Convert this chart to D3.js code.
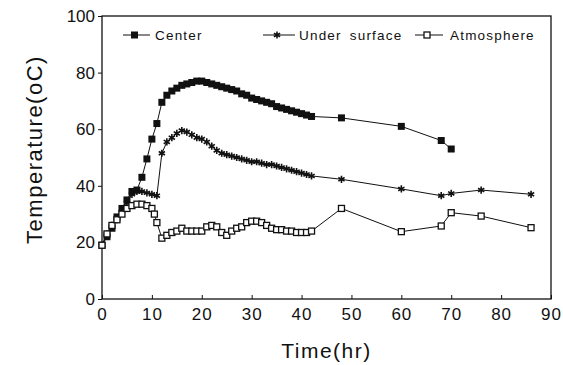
<!DOCTYPE html>
<html>
<head>
<meta charset="utf-8">
<script src="https://cdn.jsdelivr.net/npm/d3@7"></script>
<style>
  body { margin: 0; background: #fff; }
  text { font-family: "Liberation Sans", Arial, sans-serif; fill: #111; }
</style>
</head>
<body>
<script>
// hours for each series
const centerTime = [0, 1, 2, 3, 4, 5, 6, 7, 8, 9, 10, 11, 12, 13, 14, 15, 16, 17, 18, 19, 20, 21, 22, 23, 24, 25, 26, 27, 28, 29, 30, 31, 32, 33, 34, 35, 36, 37, 38, 39, 40, 41, 42, 48, 60, 68, 70];
const centerTemp = [19, 22, 25, 29, 32, 35, 38, 38.5, 43, 49.5, 56.5, 62, 69.5, 72, 73.5, 74.5, 75.5, 76, 76.5, 77, 77, 76.5, 76, 75.5, 75, 74.5, 74, 73.5, 72.5, 72, 71, 70.5, 70, 69.5, 69, 68, 67.5, 67, 66.5, 66, 65.5, 65, 64.5, 64, 61, 56, 53];

const underTime = [0, 1, 2, 3, 4, 5, 6, 7, 8, 9, 10, 11, 12, 13, 14, 15, 16, 17, 18, 19, 20, 21, 22, 23, 24, 25, 26, 27, 28, 29, 30, 31, 32, 33, 34, 35, 36, 37, 38, 39, 40, 41, 42, 48, 60, 68, 70, 76, 86];
const underTemp = [19, 23, 26, 28, 31, 34, 37, 38, 38, 37.5, 37, 36.5, 51.5, 55.5, 57, 58.5, 59.5, 59, 58, 57, 56.5, 55.5, 54, 52.5, 51.5, 51, 50.5, 50, 49.5, 49, 48.5, 48.5, 48, 47.5, 47.5, 47, 46.5, 46, 45.5, 45, 44.5, 44, 43.5, 42.3, 38.9, 36.5, 37.3, 38.5, 37];

const atmoTime = [0, 1, 2, 3, 4, 5, 6, 7, 8, 9, 10, 10.5, 11, 12, 13, 14, 15, 16, 17, 18, 19, 20, 21, 22, 23, 24, 25, 26, 27, 28, 29, 30, 31, 32, 33, 34, 35, 36, 37, 38, 39, 40, 41, 42, 48, 60, 68, 70, 76, 86];
const atmoTemp = [19, 23, 26, 28, 30, 32, 33, 33.5, 33.5, 33, 32, 30, 27, 21.5, 22.5, 23.5, 24, 25, 24, 24, 24, 24, 25.5, 26, 25.5, 23.5, 22.5, 24, 25, 25.5, 27, 27.5, 27.5, 27, 26, 25, 24.5, 24.5, 24, 24, 23.5, 23.5, 23.5, 24, 32, 23.8, 25.8, 30.5, 29.3, 25.2];

const xTicks = [0, 10, 20, 30, 40, 50, 60, 70, 80, 90];
const yTicks = [0, 20, 40, 60, 80, 100];
const seriesNames = ["Center", "Under surface", "Atmosphere"];

const width = 563, height = 365;
const margin = { top: 16, right: 12, bottom: 66, left: 102 };
const ink = "#111";

const svg = d3.select("body").append("svg")
  .attr("width", width)
  .attr("height", height);

const x = d3.scaleLinear().domain([0, 90]).range([margin.left, width - margin.right]);
const y = d3.scaleLinear().domain([0, 100]).range([height - margin.bottom, margin.top]);

// frame
svg.append("rect")
  .attr("x", x(0)).attr("y", y(100))
  .attr("width", x(90) - x(0)).attr("height", y(0) - y(100))
  .attr("fill", "none").attr("stroke", ink).attr("stroke-width", 1.3);

const xAxis = svg.append("g")
  .attr("transform", `translate(0,${y(0)})`)
  .call(d3.axisBottom(x).tickValues(xTicks).tickSize(-4).tickPadding(6).tickFormat(d3.format("d")));
xAxis.select(".domain").remove();
xAxis.selectAll("text").attr("font-size", 17).attr("letter-spacing", 1).attr("fill", ink).attr("dy", "0.9em");
xAxis.selectAll("line").attr("stroke", ink);

const yAxis = svg.append("g")
  .attr("transform", `translate(${x(0)},0)`)
  .call(d3.axisLeft(y).tickValues(yTicks).tickSize(4).tickPadding(3));
yAxis.select(".domain").remove();
yAxis.selectAll("text").attr("font-size", 17).attr("fill", ink);
yAxis.selectAll("line").attr("stroke", ink);

// axis titles
svg.append("text")
  .attr("x", (x(0) + x(90)) / 2)
  .attr("y", 358)
  .attr("text-anchor", "middle")
  .attr("font-size", 21)
  .attr("letter-spacing", 1.5)
  .text("Time(hr)");

svg.append("text")
  .attr("transform", `translate(42,${(y(0) + y(100)) / 2 - 8}) rotate(-90)`)
  .attr("text-anchor", "middle")
  .attr("font-size", 22)
  .attr("letter-spacing", 1.5)
  .text("Temperature(oC)");

const line = d3.line().x((d) => x(d[0])).y((d) => y(d[1]));

const series = [
  { name: seriesNames[0], pts: d3.zip(centerTime, centerTemp), kind: "filled" },
  { name: seriesNames[1], pts: d3.zip(underTime, underTemp), kind: "star" },
  { name: seriesNames[2], pts: d3.zip(atmoTime, atmoTemp), kind: "open" },
];

function drawMarker(g, kind) {
  if (kind === "filled") {
    g.append("rect").attr("x", -3.5).attr("y", -3.5).attr("width", 7).attr("height", 7).attr("fill", ink);
  } else if (kind === "open") {
    g.append("rect").attr("x", -3).attr("y", -3).attr("width", 6).attr("height", 6)
      .attr("fill", "#fff").attr("stroke", ink).attr("stroke-width", 1.3);
  } else {
    g.append("path").attr("d", d3.symbol(d3.symbolAsterisk, 36)())
      .attr("fill", "none").attr("stroke", ink).attr("stroke-width", 1.6);
  }
}

series.forEach((s) => {
  svg.append("path")
    .datum(s.pts)
    .attr("d", line)
    .attr("fill", "none")
    .attr("stroke", ink)
    .attr("stroke-width", 1);
});

series.forEach((s) => {
  svg.append("g").selectAll("g")
    .data(s.pts)
    .join("g")
    .attr("transform", (d) => `translate(${x(d[0])},${y(d[1])})`)
    .each(function () { drawMarker(d3.select(this), s.kind); });
});

// legend
const legendLine = [[123, 150], [263, 295], [415, 443]];
const legendText = [155, 299, 450];
series.forEach((s, i) => {
  const [x1, x2] = legendLine[i];
  svg.append("line").attr("x1", x1).attr("x2", x2).attr("y1", 35).attr("y2", 35)
    .attr("stroke", ink).attr("stroke-width", 1);
  drawMarker(svg.append("g").attr("transform", `translate(${(x1 + x2) / 2 - 2},35)`), s.kind);
  svg.append("text").attr("x", legendText[i]).attr("y", 40)
    .attr("font-size", 13.5).attr("letter-spacing", 1.2).attr("word-spacing", 3)
    .text(s.name);
});
</script>
</body>
</html>
